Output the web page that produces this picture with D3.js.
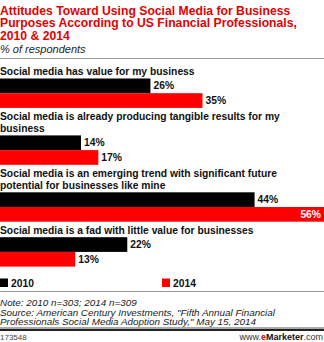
<!DOCTYPE html>
<html>
<head>
<meta charset="utf-8">
<script src="https://cdn.jsdelivr.net/npm/d3@7"></script>
<style>
  html, body { margin: 0; padding: 0; background: #fff; }
  svg { display: block; }
</style>
</head>
<body>
<svg id="chart" width="324" height="342"></svg>
<script>
// Category statements (pre-split into display lines)
const categories = [
  ["Social media has value for my business"],
  ["Social media is already producing tangible results for my", "business"],
  ["Social media is an emerging trend with significant future", "potential for businesses like mine"],
  ["Social media is a fad with little value for businesses"]
];
const seriesNames = ["2010", "2014"];
const values2010 = [26, 14, 44, 22];
const values2014 = [35, 17, 56, 13];

const titleLines = [
  "Attitudes Toward Using Social Media for Business",
  "Purposes According to US Financial Professionals,",
  "2010 & 2014"
];
const subtitle = "% of respondents";
const noteLines = [
  "Note: 2010 n=303; 2014 n=309",
  "Source: American Century Investments, \"Fifth Annual Financial",
  "Professionals Social Media Adoption Study,\" May 15, 2014"
];
const chartId = "173548";

const W = 324, H = 342;
const RED = "#ff0000", TITLE_RED = "#e60000";
const svg = d3.select("#chart");
const sans = "'Liberation Sans', Arial, sans-serif";

// Title block
svg.append("g").selectAll("text").data(titleLines).join("text")
  .attr("x", 0).attr("y", (d, i) => 14.5 + i * 12.5)
  .attr("font-family", sans).attr("font-weight", "bold").attr("font-size", 12.2)
  .attr("fill", TITLE_RED).text(d => d);

svg.append("text").attr("x", 0).attr("y", 52.5)
  .attr("font-family", sans).attr("font-style", "italic").attr("font-size", 11)
  .attr("fill", "#222").text(subtitle);

svg.append("line").attr("x1", 0).attr("x2", W).attr("y1", 58.5).attr("y2", 58.5)
  .attr("stroke", "#9a9a9a").attr("stroke-width", 1);

// Value scale
const x = d3.scaleLinear().domain([0, 56]).range([0, 324]);
const color = d3.scaleOrdinal().domain(seriesNames).range(["#000000", RED]);

const lineH = 12, barBlock = 29.4;
const y = d3.scaleBand().domain(seriesNames).range([0, barBlock]).padding(0);

let cursor = 63;
const plot = svg.append("g");
categories.forEach((lines, i) => {
  const g = plot.append("g");
  lines.forEach(line => {
    cursor += lineH;
    g.append("text").attr("x", 0).attr("y", cursor)
      .attr("font-family", sans).attr("font-weight", "bold").attr("font-size", 10.3)
      .attr("fill", "#111").text(line);
  });
  const top = cursor + 3.5;
  const rows = [
    { s: "2010", v: values2010[i] },
    { s: "2014", v: values2014[i] }
  ];
  const bg = g.append("g").attr("transform", `translate(0,${top})`);
  bg.selectAll("rect").data(rows).join("rect")
    .attr("x", x(0)).attr("y", d => y(d.s))
    .attr("width", d => x(d.v) - x(0)).attr("height", y.bandwidth())
    .attr("fill", d => color(d.s));
  bg.selectAll("text").data(rows).join("text")
    .attr("x", d => x(d.v) > W - 30 ? x(d.v) - 3 : x(d.v) + 3)
    .attr("y", d => y(d.s) + y.bandwidth() / 2 + 3.6)
    .attr("text-anchor", d => x(d.v) > W - 30 ? "end" : "start")
    .attr("font-family", sans).attr("font-weight", "bold").attr("font-size", 10.3)
    .attr("fill", d => x(d.v) > W - 30 ? "#fff" : "#111")
    .text(d => d.v + "%");
  cursor = top + barBlock;
});

// Legend
const legendX = [0, 162];
const lg = svg.append("g").selectAll("g").data(seriesNames).join("g")
  .attr("transform", (d, i) => `translate(${legendX[i]},278.5)`);
lg.append("rect").attr("width", 8).attr("height", 8.5).attr("fill", d => color(d));
lg.append("text").attr("x", 11).attr("y", 8.3)
  .attr("font-family", sans).attr("font-weight", "bold").attr("font-size", 10.3)
  .attr("fill", "#111").text(d => d);

// Footer
svg.append("line").attr("x1", 0).attr("x2", W).attr("y1", 291.5).attr("y2", 291.5)
  .attr("stroke", "#9a9a9a").attr("stroke-width", 1);
svg.append("g").selectAll("text").data(noteLines).join("text")
  .attr("x", 0).attr("y", (d, i) => 306 + i * 9.5)
  .attr("font-family", sans).attr("font-style", "italic").attr("font-size", 9.9)
  .attr("fill", "#222").text(d => d);
svg.append("line").attr("x1", 0).attr("x2", W).attr("y1", 328).attr("y2", 328)
  .attr("stroke", "#555").attr("stroke-width", 1);
svg.append("line").attr("x1", 0).attr("x2", W).attr("y1", 330).attr("y2", 330)
  .attr("stroke", "#222").attr("stroke-width", 2);
svg.append("text").attr("x", 0).attr("y", 340)
  .attr("font-family", sans).attr("font-size", 8).attr("fill", "#444").text(chartId);
const brand = svg.append("text").attr("x", W - 1).attr("y", 340).attr("text-anchor", "end")
  .attr("font-family", sans).attr("font-size", 9).attr("fill", "#333");
brand.append("tspan").text("www.");
brand.append("tspan").attr("fill", TITLE_RED).attr("font-weight", "bold").text("e");
brand.append("tspan").attr("font-weight", "bold").attr("fill", "#111").text("Marketer");
brand.append("tspan").text(".com");
</script>
</body>
</html>
